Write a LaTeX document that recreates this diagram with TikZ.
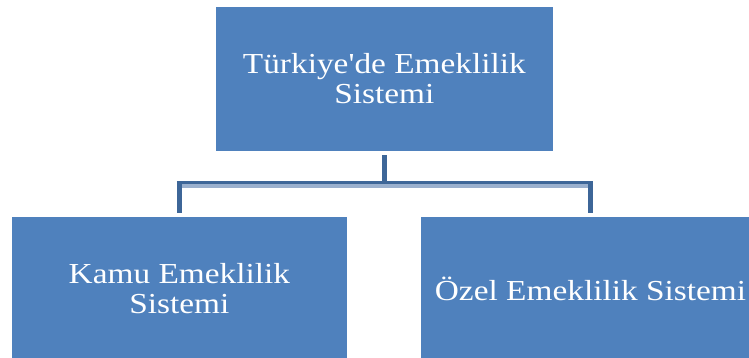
\documentclass[tikz,border=0pt]{standalone}
\usepackage{fontspec}
\setmainfont{Liberation Serif}[FakeStretch=1.15,Ligatures=TeXOff]
\usepackage{tikz}
\definecolor{boxblue}{HTML}{4F81BD}
\definecolor{linkdark}{HTML}{3D6698}
\definecolor{linklight}{HTML}{9AB0CE}

\begin{document}
\begin{tikzpicture}[x=1pt,y=-1pt]

  \tikzstyle{unit}=[fill=boxblue, text=white, inner sep=0pt, align=center,
                    font=\fontsize{29}{30}\selectfont]
  \tikzstyle{root}=[unit, minimum width=336.7pt, minimum height=143.7pt]
  \tikzstyle{branch}=[unit, minimum width=335pt, minimum height=143pt]
  \tikzstyle{trunk}=[draw=linkdark, line width=5.5pt]
  \tikzstyle{bartop}=[draw=linkdark, line width=3.3pt]
  \tikzstyle{barlow}=[draw=linklight, line width=3.4pt]

  \useasboundingbox (0,0) rectangle (749,358);
  \clip (0,0) rectangle (749,358);

  \path
  (384.4,79) node[root](top){T\"urkiye'de Emeklilik\\Sistemi};

  \path
  (179.4,288.5) node[branch](kamu){Kamu Emeklilik\\Sistemi}
  (590.5,288.5) node[branch,minimum width=339pt](ozel){\"Ozel Emeklilik Sistemi};

  \coordinate (hub) at (385,182.7);
  \coordinate (low) at (385,186);

  \draw[trunk] ([yshift=-4pt]top.south) -- ([yshift=-1.5pt]top.south |- hub);
  \draw[bartop] ([xshift=-2.5pt]kamu.north |- hub) -- ([xshift=2.5pt]ozel.north |- hub);
  \draw[barlow] ([xshift=2.5pt]kamu.north |- low) -- ([xshift=-2.5pt]ozel.north |- low);
  \draw[trunk] ([yshift=1pt]kamu.north |- hub) -- ([yshift=4pt]kamu.north);
  \draw[trunk] ([yshift=1pt]ozel.north |- hub) -- ([yshift=4pt]ozel.north);

\end{tikzpicture}
\end{document}
